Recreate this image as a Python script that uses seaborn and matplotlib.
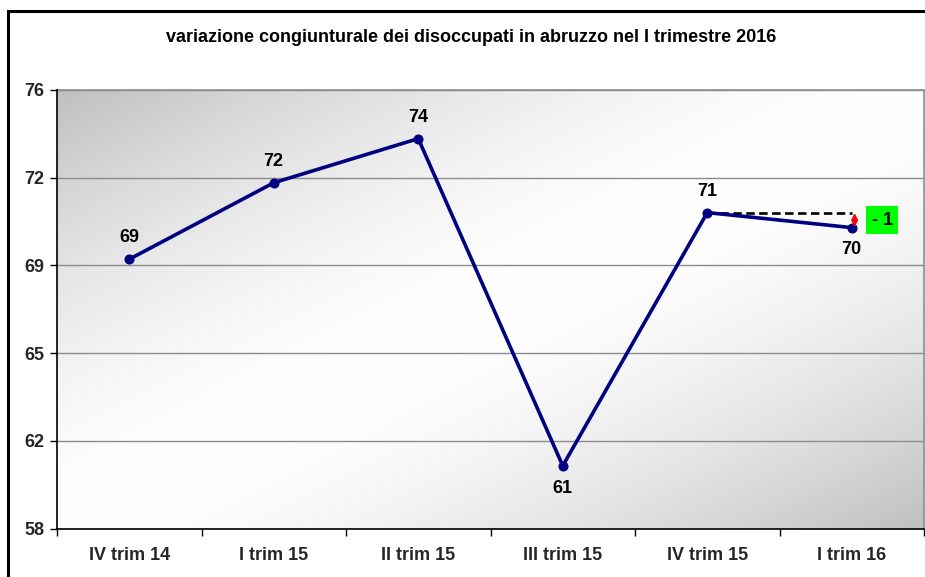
import numpy as np
import pandas as pd
import matplotlib
matplotlib.use("Agg")
import matplotlib.pyplot as plt
from matplotlib.patches import Rectangle
import seaborn as sns

# ---- data ----
categories = ["IV trim 14", "I trim 15", "II trim 15", "III trim 15", "IV trim 15", "I trim 16"]
values = [68.75, 71.80, 73.56, 60.51, 70.61, 70.01]
label_pos = ["above", "above", "above", "below", "above", "below"]
y_ticks = [58.0, 61.5, 65.0, 68.5, 72.0, 75.5]
y_tick_labels = ["58", "62", "65", "69", "72", "76"]
title = "variazione congiunturale dei disoccupati in abruzzo nel I trimestre 2016"
delta_label = "- 1"

df = pd.DataFrame({"trimestre": categories, "disoccupati": values})

sns.set_theme(style="white")
plt.rcParams["font.family"] = ["Liberation Sans", "DejaVu Sans"]
plt.rcParams["font.weight"] = "bold"

fig = plt.figure(figsize=(9.25, 5.77), dpi=100)
fig.patch.set_facecolor("white")
ax = fig.add_axes([57 / 925, 1 - 528.7 / 577, (924 - 57) / 925, (528.7 - 90) / 577])

# gradient background (dark top-left and bottom-right, white along the anti-diagonal)
n = 400
u = np.linspace(0, 1, n)
U, V = np.meshgrid(u, u)  # V grows downward (row index)
d = np.abs(U + V - 1.0)
g = 1.0 - 0.25 * d ** 1.6
img = np.dstack([g, g, g])
ax.imshow(img, extent=[-0.5, 5.5, 58.0, 75.5], origin="upper", aspect="auto",
          zorder=0, interpolation="bilinear")

sns.lineplot(data=df, x="trimestre", y="disoccupati", sort=False, ax=ax,
             color="#000080", linewidth=2.6, marker="o", markersize=6.5,
             markeredgecolor="#000080", zorder=5)

ax.set_xlim(-0.5, 5.5)
ax.set_ylim(58.0, 75.5)
ax.set_xlabel("")
ax.set_ylabel("")

ax.set_yticks(y_ticks)
ax.set_yticklabels(y_tick_labels, fontsize=13, fontweight="bold")
ax.set_xticks(np.arange(-0.5, 6.0, 1.0))
ax.set_xticklabels([])
ax.set_xticks(np.arange(len(categories)), minor=True)
ax.set_xticklabels(categories, minor=True, fontsize=13, fontweight="bold")
ax.tick_params(axis="x", which="major", length=5, width=1, color="black", direction="out", bottom=True)
ax.tick_params(axis="x", which="minor", length=0, pad=13)
ax.tick_params(axis="y", length=5, width=1, color="black", direction="out", left=True, pad=4)

for yv in y_ticks:
    ax.axhline(yv, color="#8c8c8c", linewidth=1.0, zorder=1)

for side in ["top", "right"]:
    ax.spines[side].set_color("#8c8c8c")
    ax.spines[side].set_linewidth(1.2)
for side in ["left", "bottom"]:
    ax.spines[side].set_color("black")
    ax.spines[side].set_linewidth(1.2)
    ax.spines[side].set_zorder(6)

# data labels
for i, (v, pos) in enumerate(zip(values, label_pos)):
    off = 15.5 if pos == "above" else -16
    ax.annotate(f"{int(np.floor(v + 0.5))}", xy=(i, v), xytext=(0, off),
                textcoords="offset points", ha="center", va="center",
                fontsize=13, fontweight="bold", color="black", zorder=7)

# delta annotation
ax.plot([4, 5], [values[4], values[4]], color="black", linestyle=(0, (3.2, 1.7)),
        linewidth=1.9, zorder=4)
ax.annotate("", xy=(5.02, values[5] + 0.02), xytext=(5.02, values[4] - 0.02),
            arrowprops=dict(arrowstyle="<|-|>,head_length=0.4,head_width=0.2",
                            color="red", lw=1.3, mutation_scale=9,
                            shrinkA=0, shrinkB=0), zorder=8)
ax.text(5.21, (values[4] + values[5]) / 2, delta_label, ha="center", va="center",
        fontsize=13, fontweight="bold", color="black", zorder=8,
        bbox=dict(boxstyle="square,pad=0.3", facecolor="#00ff00", edgecolor="none"))

fig.text(471 / 925, 1 - 37 / 577, title, ha="center", va="center",
         fontsize=13, fontweight="bold", color="black")

# outer chart frame
fig.patches.append(Rectangle((7.5 / 925, -0.1), 1.2, 1 - 10.5 / 577 + 0.1,
                             transform=fig.transFigure, fill=False,
                             edgecolor="black", linewidth=2.2, zorder=10))

fig.savefig("out.png", dpi=100)
